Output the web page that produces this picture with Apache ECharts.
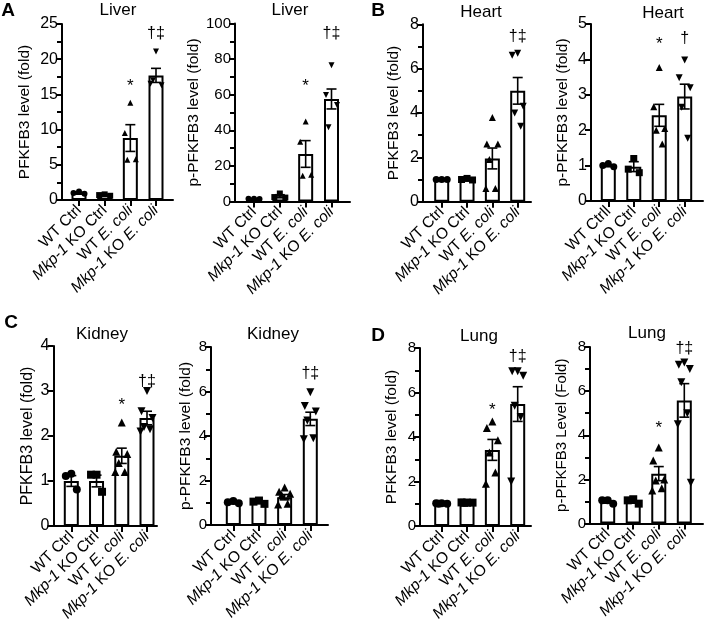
<!DOCTYPE html>
<html><head><meta charset="utf-8">
<script src="https://cdn.jsdelivr.net/npm/echarts@6/dist/echarts.min.js"></script>
<style>html,body{margin:0;padding:0;background:#fff}#c{width:704px;height:625px}</style>
</head><body><div id="c"></div>
<script>
// ---------- DATA ----------
const categories = ['WT Ctrl', 'Mkp-1 KO Ctrl', 'WT E. coli', 'Mkp-1 KO E. coli'];
const categoriesHeartP = ['WT Ctrll', 'Mkp-1 KO Ctrl', 'WT E. coli', 'Mkp-1 KO E. coli'];
const panelTitles = ['Liver', 'Liver', 'Heart', 'Heart', 'Kidney', 'Kidney', 'Lung', 'Lung'];
const panelLetters = ['A', 'B', 'C', 'D'];
const yAxisNames = ['PFKFB3 level (fold)', 'p-PFKFB3 level (fold)', 'PFKFB3 level (fold)', 'p-PFKFB3 level (fold)',
  'PFKFB3 level (fold)', 'p-PFKFB3 level (fold)', 'PFKFB3 level (fold)', 'p-PFKFB3 Level (Fold)'];
const yMax = [25, 100, 8, 5, 4, 8, 8, 8];
const yStep = [5, 20, 2, 1, 1, 2, 2, 2];

// Liver PFKFB3
const meanA1 = [1.0, 0.7, 8.8, 17.7];
const semA1 = [0.1, 0.06, 1.9, 1.0];
const ptsA1 = [[1.2, 1.0, 0.9], [0.8, 0.7, 0.6], [13.8, 9.5, 5.8, 5.7], [21.1, 16.5, 16.3, 17.0]];
const annA1 = [null, null, '*', '†‡'];
const annYA1 = [null, null, 16.2, 23.6];
// Liver p-PFKFB3
const meanA2 = [1.5, 3.0, 26.7, 57.6];
const semA2 = [0.2, 0.8, 7.5, 5.6];
const ptsA2 = [[1.6, 1.5, 1.4], [4.5, 2.5, 2.2], [44.9, 33.6, 15.0, 14.5], [76.6, 59.8, 54.2, 41.7]];
const annA2 = [null, null, '*', '†‡'];
const annYA2 = [null, null, 64.5, 94.4];
// Heart PFKFB3
const meanB1 = [1.0, 1.0, 1.95, 5.0];
const semB1 = [0.01, 0.03, 0.47, 0.6];
const ptsB1 = [[1.0, 1.0, 1.0], [1.05, 1.0, 0.98], [3.8, 2.6, 2.6, 1.9, 0.6, 0.6], [6.7, 6.6, 4.3, 4.0, 3.4]];
const annB1 = [null, null, null, '†‡'];
const annYB1 = [null, null, null, 7.44];
// Heart p-PFKFB3
const meanB2 = [1.0, 0.97, 2.42, 2.95];
const semB2 = [0.02, 0.14, 0.31, 0.35];
const ptsB2 = [[1.06, 1.0, 0.97], [1.2, 0.9, 0.8], [3.77, 2.66, 2.05, 2.0, 1.61], [3.98, 3.48, 3.2, 2.65, 1.77]];
const annB2 = [null, null, '*', '†'];
const annYB2 = [null, null, 4.43, 4.6];
// Kidney PFKFB3
const meanC1 = [1.0, 1.0, 1.56, 2.4];
const semC1 = [0.12, 0.13, 0.17, 0.15];
const ptsC1 = [[1.16, 1.11, 0.81], [1.14, 1.14, 0.76], [2.3, 1.65, 1.6, 1.4, 1.2, 1.2], [3.0, 2.55, 2.4, 2.2, 2.15, 2.1]];
const annC1 = [null, null, '*', '†‡'];
const annYC1 = [null, null, 2.69, 3.21];
// Kidney p-PFKFB3
const meanC2 = [1.01, 1.02, 1.25, 4.77];
const semC2 = [0.03, 0.04, 0.12, 0.3];
const ptsC2 = [[1.08, 1.02, 0.98], [1.1, 1.05, 0.95], [1.68, 1.5, 1.4, 1.35, 0.95, 0.92], [5.97, 5.35, 5.1, 4.7, 3.9, 3.85]];
const annC2 = [null, null, null, '†‡'];
const annYC2 = [null, null, null, 6.8];
// Lung PFKFB3
const meanD1 = [1.02, 1.05, 3.42, 5.48];
const semD1 = [0.01, 0.01, 0.47, 0.78];
const ptsD1 = [[1.02, 1.02, 1.0, 1.0], [1.05, 1.06, 1.05, 1.04], [4.7, 4.4, 3.85, 3.3, 2.4, 1.9], [6.95, 6.95, 6.75, 5.4, 4.9, 2.0]];
const annD1 = [null, null, '*', '†‡'];
const annYD1 = [null, null, 5.22, 7.63];
// Lung p-PFKFB3
const meanD2 = [0.97, 0.98, 2.26, 5.58];
const semD2 = [0.04, 0.05, 0.32, 0.76];
const ptsD2 = [[1.05, 1.05, 0.9], [1.1, 1.05, 0.9], [3.45, 2.85, 2.0, 1.95, 1.6, 1.5], [7.3, 7.2, 7.0, 6.4, 5.0, 4.5, 1.85]];
const annD2 = [null, null, '*', '†‡'];
const annYD2 = [null, null, 4.3, 7.92];

// ---------- LAYOUT / STYLE ----------
const FONT = '"Liberation Sans", Arial, Helvetica, sans-serif';
const panels = [
  {mean: meanA1, sem: semA1, pts: ptsA1, ann: annA1, annY: annYA1, cats: categories},
  {mean: meanA2, sem: semA2, pts: ptsA2, ann: annA2, annY: annYA2, cats: categories},
  {mean: meanB1, sem: semB1, pts: ptsB1, ann: annB1, annY: annYB1, cats: categories},
  {mean: meanB2, sem: semB2, pts: ptsB2, ann: annB2, annY: annYB2, cats: categoriesHeartP},
  {mean: meanC1, sem: semC1, pts: ptsC1, ann: annC1, annY: annYC1, cats: categories},
  {mean: meanC2, sem: semC2, pts: ptsC2, ann: annC2, annY: annYC2, cats: categories},
  {mean: meanD1, sem: semD1, pts: ptsD1, ann: annD1, annY: annYD1, cats: categories},
  {mean: meanD2, sem: semD2, pts: ptsD2, ann: annD2, annY: annYD2, cats: categories}
];
const geo = [
  {ax: 62, end: 173, c0: 79, c3: 156, top: 24, bot: 200, gap: 29, tf: 16, nf: 15.5, sym: 6, minor: true, tx: 118, ty: 10},
  {ax: 235, end: 350, c0: 254, c3: 331.5, top: 23.5, bot: 201.5, gap: 31, tf: 15, nf: 15.5, sym: 6, minor: true, tx: 290, ty: 10},
  {ax: 423, end: 531, c0: 441.7, c3: 517.7, top: 24.3, bot: 201.7, gap: 21, tf: 16, nf: 15.5, sym: 7, minor: true, tx: 481, ty: 12},
  {ax: 591, end: 703, c0: 608.3, c3: 684.7, top: 24, bot: 201, gap: 20, tf: 16, nf: 15.5, sym: 7, minor: false, tx: 663, ty: 13},
  {ax: 53.5, end: 157, c0: 71.3, c3: 147, top: 346, bot: 526, gap: 18, tf: 16, nf: 16, sym: 8, minor: false, tx: 102, ty: 334},
  {ax: 211, end: 328, c0: 233.3, c3: 310.3, top: 347, bot: 525, gap: 17, tf: 15, nf: 15.5, sym: 8, minor: true, tx: 273, ty: 334},
  {ax: 420, end: 531, c0: 441.7, c3: 517.7, top: 348, bot: 526, gap: 20, tf: 15, nf: 15.5, sym: 8, minor: true, tx: 479, ty: 336},
  {ax: 590, end: 703, c0: 607.7, c3: 684.3, top: 347, bot: 523.5, gap: 21, tf: 15, nf: 15, sym: 8, minor: true, tx: 647, ty: 333}
];
const letterPos = [[8, 11], [378, 11], [11, 323], [378, 336]];
const groupSymbols = [
  {symbol: 'circle', rotate: 0},
  {symbol: 'rect', rotate: 0},
  {symbol: 'triangle', rotate: 0},
  {symbol: 'triangle', rotate: 180}
];
const jitter = [0, -5.5, 5.5, -3, 3, -6.5, 6.5];
const XLAB = 15.5;

function labelFmt(v) {
  return v.replace('Mkp-1', '{i|Mkp-1}').replace('E. coli', '{i|E. coli}');
}

const grid = [], xAxis = [], yAxis = [], series = [], graphic = [];
panels.forEach((p, k) => {
  const g = geo[k];
  const sp = (g.c3 - g.c0) / 3;
  const innerLeft = g.c0 - sp / 2;
  const h = g.bot - g.top;
  const go = 2 * k, gi = 2 * k + 1;
  grid.push({left: g.ax, top: g.top, width: g.end - g.ax, height: h, containLabel: false, outerBoundsMode: 'none'});
  grid.push({left: innerLeft, top: g.top, width: sp * 4, height: h, containLabel: false, outerBoundsMode: 'none'});
  xAxis.push({gridIndex: go, type: 'value', min: 0, max: 1, axisLine: {show: true, lineStyle: {color: '#000', width: 2}},
    axisTick: {show: false}, axisLabel: {show: false}, splitLine: {show: false}});
  yAxis.push({gridIndex: go, type: 'value', min: 0, max: yMax[k], interval: yStep[k],
    axisLine: {show: true, lineStyle: {color: '#000', width: 2}},
    axisTick: {show: true, length: 6, lineStyle: {color: '#000', width: 2}},
    minorTick: {show: g.minor, splitNumber: 2, length: 5, lineStyle: {color: '#000', width: 2}},
    axisLabel: {color: '#000', fontSize: g.tf, fontFamily: FONT, margin: 4},
    splitLine: {show: false}, minorSplitLine: {show: false},
    name: yAxisNames[k], nameLocation: 'middle', nameRotate: 90, nameGap: g.gap,
    nameTextStyle: {color: '#000', fontSize: g.nf, fontFamily: FONT}});
  xAxis.push({gridIndex: gi, type: 'category', data: p.cats,
    axisLine: {show: false},
    axisTick: {show: true, alignWithLabel: true, length: 6, lineStyle: {color: '#000', width: 2}},
    axisLabel: {interval: 0, rotate: 45, margin: 8, color: '#000', fontSize: XLAB, fontFamily: FONT,
      formatter: labelFmt,
      rich: {i: {fontStyle: 'italic', fontSize: XLAB, color: '#000', fontFamily: FONT}}},
    splitLine: {show: false}});
  yAxis.push({gridIndex: gi, type: 'value', min: 0, max: yMax[k], show: false});

  series.push({type: 'bar', xAxisIndex: gi, yAxisIndex: gi, data: p.mean, barWidth: 15, z: 2,
    itemStyle: {color: '#fff', borderColor: '#000', borderWidth: 2}, silent: true, animation: false});

  p.pts.forEach((arr, gIdx) => {
    const s = groupSymbols[gIdx];
    series.push({type: 'scatter', xAxisIndex: gi, yAxisIndex: gi, z: 4, animation: false,
      symbol: s.symbol, symbolRotate: s.rotate, symbolSize: g.sym,
      itemStyle: {color: '#000', opacity: 1},
      data: arr.map((v, j) => ({value: [gIdx, v], symbolOffset: [jitter[j % jitter.length], 0]}))});
  });

  const semLocal = p.sem;
  series.push({type: 'custom', xAxisIndex: gi, yAxisIndex: gi, z: 5, animation: false,
    data: p.mean.map((m, i) => [i, m, semLocal[i]]),
    renderItem: function (params, api) {
      const x = api.value(0), m = api.value(1), s = api.value(2);
      const t = api.coord([x, m + s]), b = api.coord([x, m - s]);
      const hw = 5, st = {stroke: '#000', lineWidth: 1.6};
      return {type: 'group', children: [
        {type: 'line', shape: {x1: t[0], y1: t[1], x2: b[0], y2: b[1]}, style: st},
        {type: 'line', shape: {x1: t[0] - hw, y1: t[1], x2: t[0] + hw, y2: t[1]}, style: st},
        {type: 'line', shape: {x1: b[0] - hw, y1: b[1], x2: b[0] + hw, y2: b[1]}, style: st}
      ]};
    }});

  const annTexts = [], annData = [];
  p.ann.forEach((t, i) => { if (t) { annTexts.push(t); annData.push([i, p.annY[i]]); } });
  series.push({type: 'custom', xAxisIndex: gi, yAxisIndex: gi, z: 6, animation: false, data: annData,
    renderItem: function (params, api) {
      const c = api.coord([api.value(0), api.value(1)]);
      const txt = annTexts[params.dataIndex];
      return {type: 'text', x: c[0], y: c[1], style: {text: txt, fill: '#000', align: 'center',
        verticalAlign: 'middle', fontSize: txt === '*' ? 17 : 16, fontFamily: FONT}};
    }});

  graphic.push({type: 'text', x: g.tx, y: g.ty, style: {text: panelTitles[k], fill: '#000', fontSize: 17,
    fontFamily: FONT, align: 'center', verticalAlign: 'middle'}});
});
panelLetters.forEach((L, i) => {
  graphic.push({type: 'text', x: letterPos[i][0], y: letterPos[i][1], style: {text: L, fill: '#000', fontSize: 19,
    fontWeight: 'bold', fontFamily: FONT, align: 'center', verticalAlign: 'middle'}});
});

const chart = echarts.init(document.getElementById('c'), null, {renderer: 'canvas'});
chart.setOption({backgroundColor: '#fff', animation: false, grid, xAxis, yAxis, series, graphic});
</script>
</body></html>
